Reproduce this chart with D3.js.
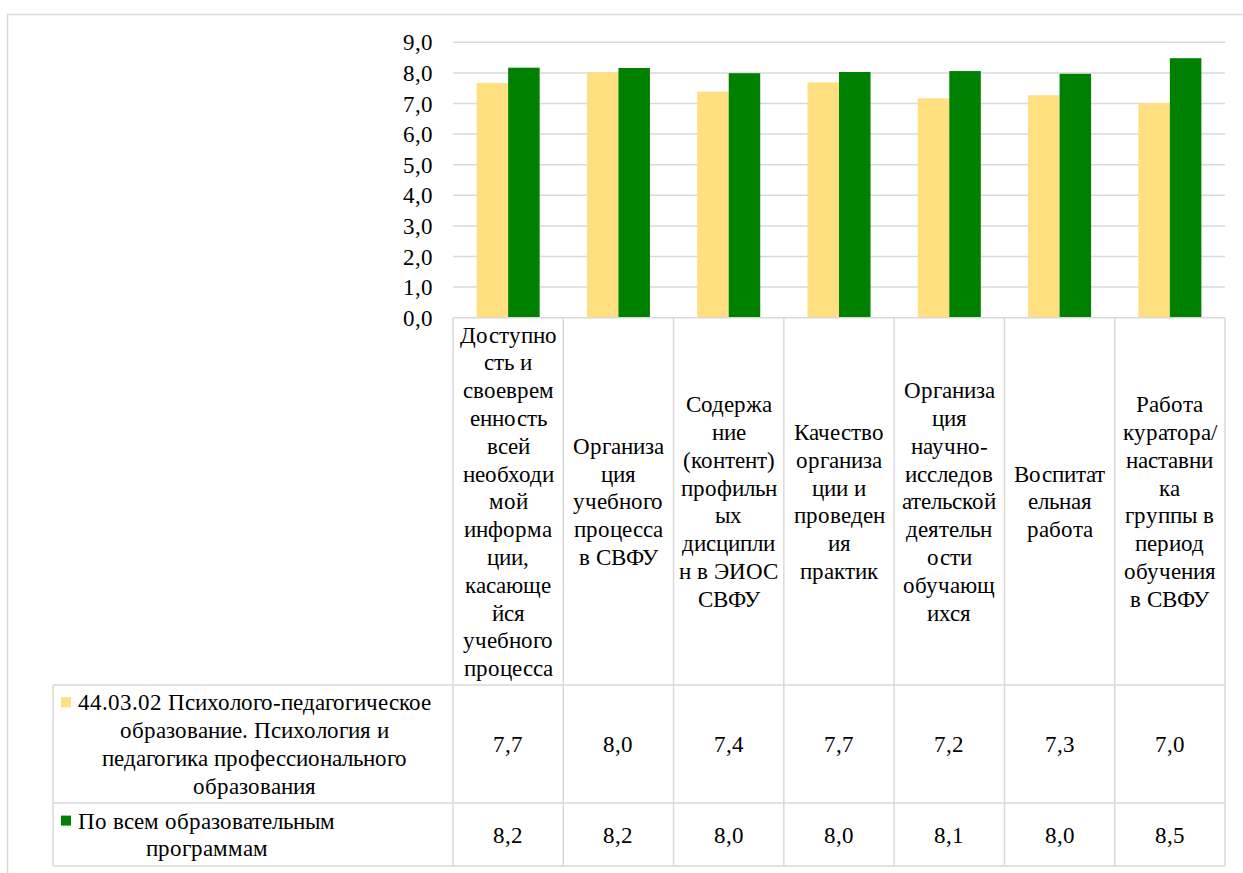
<!DOCTYPE html>
<html>
<head>
<meta charset="utf-8">
<script src="https://cdn.jsdelivr.net/npm/d3@7"></script>
<style>
  @font-face { font-family: "ChartSerif"; src: local("Liberation Serif"), local("LiberationSerif"), local("Times New Roman"); }
  body { margin: 0; background: #fff; }
  #chart svg text, #chart svg tspan { font-family: "ChartSerif", "Liberation Serif", "Times New Roman", serif !important; }
</style>
</head>
<body>
<div id="chart"></div>
<script>
// data (bar heights, table shows them rounded to 0.1)
var categories = [
    ["Доступно", "сть и", "своеврем", "енность", "всей", "необходи", "мой", "информа", "ции,", "касающе", "йся", "учебного", "процесса"],
    ["Организа", "ция", "учебного", "процесса", "в СВФУ"],
    ["Содержа", "ние", "(контент)", "профильн", "ых", "дисципли", "н в ЭИОС", "СВФУ"],
    ["Качество", "организа", "ции и", "проведен", "ия", "практик"],
    ["Организа", "ция", "научно-", "исследов", "ательской", "деятельн", "ости", "обучающ", "ихся"],
    ["Воспитат", "ельная", "работа"],
    ["Работа", "куратора/", "наставни", "ка", "группы в", "период", "обучения", "в СВФУ"]
];
var seriesNames = [
    ["44.03.02 Психолого-педагогическое", "образование. Психология и", "педагогика профессионального", "образования"],
    ["По всем образовательным", "программам"]
];
var programValues = [7.67, 8.02, 7.39, 7.69, 7.17, 7.27, 7.01];
var allValues = [8.17, 8.16, 7.99, 8.03, 8.06, 7.97, 8.48];
var yTicks = [0, 1, 2, 3, 4, 5, 6, 7, 8, 9];
var colors = ["#FFDF80", "#008000"];

var W = 1243, H = 873;
var plotLeft = 453, plotRight = 1225, plotTop = 42.3, plotBottom = 317.7;
var tableLeft = 53, catRowBottom = 685, rowBottoms = [803, 866];
var fontSize = 23, lineH = 27.8;
var FONT = "ChartSerif, Liberation Serif, Times New Roman, serif";
var gridColor = "#d9d9d9";
var fmt = function (d) { return d3.format(".1f")(d).replace(".", ","); };

function draw() {
    d3.select("#chart").html("");
    var svg = d3.select("#chart").append("svg").attr("width", W).attr("height", H)
        .attr("font-family", FONT);

    function label(parent) {
        return parent.append("text").attr("font-family", FONT).attr("font-size", fontSize).attr("fill", "#000");
    }

    // chart area frame (runs off the right and bottom edges)
    svg.append("rect")
        .attr("x", 7.5).attr("y", 14.5).attr("width", W + 20).attr("height", H + 20)
        .attr("fill", "none").attr("stroke", gridColor).attr("stroke-width", 1.5);

    var x = d3.scaleBand().domain(d3.range(categories.length)).range([plotLeft, plotRight]).padding(0);
    var xInner = d3.scaleBand().domain([0, 1]).range([0, x.bandwidth()]).paddingInner(0).paddingOuter(0.75);
    var y = d3.scaleLinear().domain([0, 9]).range([plotBottom, plotTop]);

    // gridlines
    svg.append("g").selectAll("line").data(yTicks.filter(function (d) { return d > 0; })).enter().append("line")
        .attr("x1", plotLeft).attr("x2", plotRight)
        .attr("y1", function (d) { return y(d); }).attr("y2", function (d) { return y(d); })
        .attr("stroke", gridColor).attr("stroke-width", 1.5);

    // y tick labels
    var yl = svg.append("g");
    yTicks.forEach(function (d) {
        label(yl).attr("x", 433).attr("y", y(d)).attr("dy", "0.35em").attr("text-anchor", "end").text(fmt(d));
    });

    // bars
    var series = [programValues, allValues];
    series.forEach(function (vals, s) {
        svg.append("g").selectAll("rect").data(vals).enter().append("rect")
            .attr("x", function (d, i) { return x(i) + xInner(s); })
            .attr("width", xInner.bandwidth())
            .attr("y", function (d) { return y(d); })
            .attr("height", function (d) { return y(0) - y(d); })
            .attr("fill", colors[s]);
    });

    // data table grid
    var tg = svg.append("g").attr("stroke", gridColor).attr("stroke-width", 1.5);
    var hLines = [plotBottom, catRowBottom].concat(rowBottoms);
    hLines.forEach(function (yy, k) {
        tg.append("line").attr("x1", k == 0 ? plotLeft : tableLeft).attr("x2", plotRight)
            .attr("y1", yy).attr("y2", yy);
    });
    d3.range(categories.length + 1).forEach(function (i) {
        var xx = i < categories.length ? x(i) : plotRight;
        tg.append("line").attr("x1", xx).attr("x2", xx).attr("y1", plotBottom).attr("y2", rowBottoms[1]);
    });
    tg.append("line").attr("x1", tableLeft).attr("x2", tableLeft).attr("y1", catRowBottom).attr("y2", rowBottoms[1]);

    // category labels
    var catMid = (plotBottom + catRowBottom) / 2;
    categories.forEach(function (lines, i) {
        var t = label(svg).attr("text-anchor", "middle");
        var y0 = catMid - (lines.length - 1) * lineH / 2;
        lines.forEach(function (l, k) {
            t.append("tspan").attr("x", x(i) + x.bandwidth() / 2).attr("y", y0 + k * lineH)
                .attr("dy", "0.35em").text(l);
        });
    });

    // series rows: legend key, name, values
    var rowTops = [catRowBottom, rowBottoms[0]];
    series.forEach(function (vals, s) {
        var mid = (rowTops[s] + rowBottoms[s]) / 2;
        var lines = seriesNames[s];
        var y0 = mid - (lines.length - 1) * lineH / 2;
        svg.append("rect").attr("x", 61).attr("y", y0 - 5).attr("width", 10).attr("height", 10).attr("fill", colors[s]);
        var t = label(svg);
        var spans = lines.map(function (l, k) {
            return t.append("tspan").attr("x", 78).attr("y", y0 + k * lineH).attr("dy", "0.35em").text(l);
        });
        var widths = spans.map(function (sp) { return sp.node().getComputedTextLength(); });
        var maxW = d3.max(widths);
        spans.forEach(function (sp, k) { sp.attr("x", 78 + (maxW - widths[k]) / 2); });

        vals.forEach(function (d, i) {
            label(svg).attr("x", x(i) + x.bandwidth() / 2).attr("y", mid).attr("dy", "0.35em")
                .attr("text-anchor", "middle").text(fmt(d));
        });
    });
}

draw();
if (document.fonts && document.fonts.ready) document.fonts.ready.then(draw);
</script>
</body>
</html>
